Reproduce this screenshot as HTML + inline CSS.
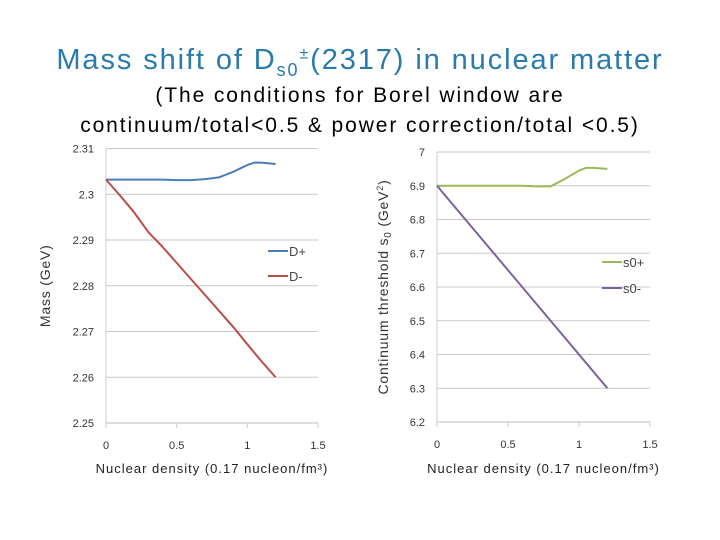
<!DOCTYPE html>
<html><head><meta charset="utf-8"><style>
body{margin:0;width:720px;height:540px;background:#fff;overflow:hidden;font-family:"Liberation Sans",sans-serif;}
#t{position:absolute;left:0;width:720px;top:44px;text-align:center;font-size:29px;color:#2a7bad;letter-spacing:1.9px;}
#s1,#s2{position:absolute;left:0;width:720px;text-align:center;font-size:21px;color:#000;letter-spacing:1.9px;}
#s1{top:84px}#s2{top:114px}
svg{position:absolute;left:0;top:0}
</style></head><body>
<div id="t">Mass shift of D<sub style="font-size:18px">s0</sub><sup style="font-size:16px">±</sup>(2317) in nuclear matter</div>
<div id="s1">(The conditions for Borel window are</div>
<div id="s2">continuum/total&lt;0.5 &amp; power correction/total &lt;0.5)</div>
<svg id="svg" width="720" height="540"></svg>
<script>
const xTicks=[0,0.5,1,1.5];
const leftYTicks=[2.25,2.26,2.27,2.28,2.29,2.3,2.31];
const leftYLabels=["2.25","2.26","2.27","2.28","2.29","2.3","2.31"];
const rightYTicks=[6.2,6.3,6.4,6.5,6.6,6.7,6.8,6.9,7];
const rightYLabels=["6.2","6.3","6.4","6.5","6.6","6.7","6.8","6.9","7"];
const dPlusX=[0,0.2,0.4,0.5,0.6,0.7,0.8,0.9,1.0,1.05,1.1,1.2];
const dPlusY=[2.3032,2.3032,2.3032,2.3031,2.3031,2.3033,2.3037,2.3049,2.3064,2.3069,2.3069,2.3066];
const dMinusX=[0,0.1,0.2,0.3,0.4,0.5,0.6,0.7,0.8,0.9,1.0,1.1,1.2];
const dMinusY=[2.3032,2.2997,2.2960,2.2917,2.2885,2.2850,2.2815,2.2780,2.2745,2.2710,2.2672,2.2635,2.2600];
const s0PlusX=[0,0.2,0.4,0.6,0.7,0.8,0.9,1.0,1.05,1.1,1.2];
const s0PlusY=[6.9,6.9,6.9,6.9,6.898,6.898,6.92,6.945,6.953,6.953,6.95];
const s0MinusX=[0,0.4,0.8,1.2];
const s0MinusY=[6.9,6.7,6.5,6.3];
const NS="http://www.w3.org/2000/svg";
const svg=document.getElementById('svg');
function el(tag,attrs,parent){const e=document.createElementNS(NS,tag);for(const k in attrs)e.setAttribute(k,attrs[k]);(parent||svg).appendChild(e);return e;}
function chart(o){
  const g=el('g',{});
  
  
  const sx=v=>o.x0+(v-0)/1.5*(o.x1-o.x0);
  const sy=v=>o.y0+(v-o.ymin)/(o.ymax-o.ymin)*(o.y1-o.y0);
  o.yt.forEach((v,i)=>{
    const l=el('line',{x1:o.x0,x2:o.x1,y1:sy(v),y2:sy(v),stroke:i==0?'#bbb':'#c8c8c8','stroke-width':1},g);
    
    
    const t=el('text',{x:o.x0-12,y:sy(v)+4,'text-anchor':'end','font-size':11,fill:'#333'},g);
    t.textContent=o.yl[i];
    
    
  });
  const ax=el('line',{x1:o.x0,x2:o.x0,y1:o.y0,y2:o.y1,stroke:'#ccc'},g);
  
  
  xTicks.forEach(v=>{
    el('line',{x1:sx(v),x2:sx(v),y1:o.y0,y2:o.y0+5,stroke:'#ccc'},g);
    const t=el('text',{x:sx(v),y:o.y0+26,'text-anchor':'middle','font-size':11,fill:'#333'},g);
    t.textContent=String(v);
    
    
  });
  o.series.forEach(s=>{
    const p=el('polyline',{points:s.x.map((v,i)=>sx(v)+','+sy(s.y[i])).join(' '),fill:'none',stroke:s.c,'stroke-width':2,'stroke-linejoin':'round'},g);
    
    
    el('line',{x1:s.lx,x2:s.lx+20,y1:s.ly,y2:s.ly,stroke:s.c,'stroke-width':2},g);
    const t=el('text',{x:s.lx+21,y:s.ly+5,'font-size':13,fill:'#444'},g);
    t.textContent=s.lab;
    
    
  });
  const xt=el('text',{x:(o.x0+o.x1)/2,y:473,'text-anchor':'middle','font-size':13,fill:'#222','letter-spacing':'1'},g);
  xt.textContent='Nuclear density (0.17 nucleon/fm³)';
  
  
  const yt=el('text',{x:0,y:0,'text-anchor':'middle','font-size':14,fill:'#333','letter-spacing':'0.8',transform:`translate(${o.ytx},${(o.y0+o.y1)/2+o.yoff}) rotate(-90)`},g);
  yt.innerHTML=o.ytitle;
  
  
}
chart({name:'mass-chart',x0:106,x1:318,y0:423,y1:148.5,ymin:2.25,ymax:2.31,yt:leftYTicks,yl:leftYLabels,ytx:50,yoff:0,ytitle:'Mass (GeV)',
 series:[{n:'d-plus',x:dPlusX,y:dPlusY,c:'#4a7ebb',lab:'D+',lx:268,ly:251},{n:'d-minus',x:dMinusX,y:dMinusY,c:'#be4b48',lab:'D-',lx:268,ly:276}]});
chart({name:'threshold-chart',x0:437,x1:650,y0:422,y1:152,ymin:6.2,ymax:7,yt:rightYTicks,yl:rightYLabels,ytx:388,yoff:0,ytitle:'Continuum threshold s<tspan font-size="10" dy="3">0</tspan><tspan dy="-3"> (GeV</tspan><tspan font-size="9" dy="-5">2</tspan><tspan dy="5">)</tspan>',
 series:[{n:'s0-plus',x:s0PlusX,y:s0PlusY,c:'#98b954',lab:'s0+',lx:602,ly:262},{n:'s0-minus',x:s0MinusX,y:s0MinusY,c:'#7d60a0',lab:'s0-',lx:602,ly:288}]});
</script>
</body></html>
